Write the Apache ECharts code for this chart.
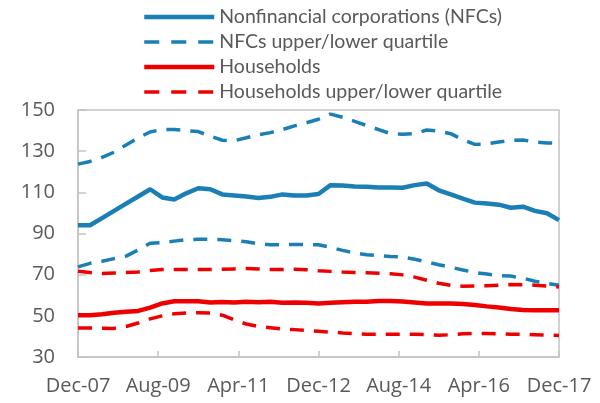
<!DOCTYPE html>
<html lang="en">
<head>
	<meta charset="UTF-8">
	<script src="https://cdn.jsdelivr.net/npm/echarts@6/dist/echarts.min.js"></script>
	<title>NFCs and households</title>
	<style>
		body { margin: 0; background: #fff; }
	</style>
</head>
<body>
	<div id="main" style="width: 600px;height:403px;"></div>

	<script>
		// quarterly observation dates
		var quarters = [
			'Dec-07', 'Mar-08', 'Jun-08', 'Sep-08', 'Dec-08', 'Mar-09', 'Jun-09', 'Sep-09', 'Dec-09',
			'Mar-10', 'Jun-10', 'Sep-10', 'Dec-10', 'Mar-11', 'Jun-11', 'Sep-11', 'Dec-11',
			'Mar-12', 'Jun-12', 'Sep-12', 'Dec-12', 'Mar-13', 'Jun-13', 'Sep-13', 'Dec-13',
			'Mar-14', 'Jun-14', 'Sep-14', 'Dec-14', 'Mar-15', 'Jun-15', 'Sep-15', 'Dec-15',
			'Mar-16', 'Jun-16', 'Sep-16', 'Dec-16', 'Mar-17', 'Jun-17', 'Sep-17', 'Dec-17'
		];

		var nfc = [94, 94, 97.5, 101, 104.5, 108, 111.5, 107.5, 106.5, 109.5, 112, 111.5, 109,
			108.5, 108, 107.2, 107.8, 109, 108.5, 108.5, 109.2, 113.5, 113.3, 112.8, 112.7,
			112.3, 112.3, 112.2, 113.5, 114.3, 111, 109, 107, 105, 104.6, 104, 102.5, 103, 101, 99.8, 96.5];
		var nfcUpper = [123.7, 125, 127, 129.5, 133, 136.5, 139.3, 140.6, 140.5, 140, 139.5, 137.3, 135.3,
			135.1, 136.5, 138, 139, 140.5, 142.3, 143.8, 145.5, 148, 146.5, 144.5, 142.5,
			140.5, 138.5, 138.2, 138.5, 140.3, 139.7, 138.5, 135.5, 133.3, 133.5, 134.5, 135.2, 135.4, 134.5, 134, 133.8];
		var nfcLower = [73.8, 75.5, 76.5, 77.8, 79, 82, 85.3, 85.6, 86.3, 87, 87.2, 87.2, 87,
			86.5, 86, 85, 84.5, 84.6, 84.7, 84.7, 84.5, 83.3, 81.8, 80.5, 79.7,
			79.3, 78.8, 78.6, 77.5, 76.2, 74.8, 73.6, 72.3, 71, 70.3, 69.6, 69.3, 68.3, 66.8, 65.8, 64.9];
		var hh = [50.3, 50.3, 50.8, 51.5, 52, 52.4, 54, 56, 57.1, 57.1, 57.1, 56.5, 56.7,
			56.5, 56.8, 56.6, 56.8, 56.3, 56.5, 56.4, 56, 56.3, 56.6, 56.8, 56.9,
			57.2, 57.2, 57, 56.5, 56, 56, 56, 55.8, 55.3, 54.6, 54, 53.3, 52.8, 52.7, 52.7, 52.7];
		var hhUpper = [71.7, 71, 70.6, 70.8, 71, 71.3, 72, 72.5, 72.5, 72.5, 72.5, 72.5, 72.6,
			72.8, 73, 72.8, 72.5, 72.5, 72.6, 72.4, 71.9, 71.6, 71.3, 71.1, 70.9,
			70.7, 70.4, 69.9, 68.8, 67.3, 65.8, 64.8, 64.4, 64.5, 64.6, 64.9, 65.2, 65.1, 64.9, 64.5, 64];
		var hhLower = [44.1, 44.1, 44, 43.9, 44.8, 46.5, 48.5, 50, 51, 51.4, 51.5, 51.4, 50.3,
			48, 46, 44.8, 44.2, 43.6, 43.3, 42.9, 42.5, 42.1, 41.7, 41.4, 41.1,
			41.1, 41.1, 41.1, 41.1, 40.9, 40.6, 40.8, 41.3, 41.4, 41.4, 41.3, 41.1, 41, 40.8, 40.6, 40.5];

		// monthly axis so that labels fall every 20 months like the original
		var monthNames = ['Jan', 'Feb', 'Mar', 'Apr', 'May', 'Jun', 'Jul', 'Aug', 'Sep', 'Oct', 'Nov', 'Dec'];
		var months = [];
		for (var i = 0; i <= 120; i++) {
			var m = (11 + i) % 12;
			var y = 7 + Math.floor((11 + i) / 12);
			months.push(monthNames[m] + '-' + (y < 10 ? '0' + y : y));
		}

		var blue = '#1a7fb5';
		var red = '#ee0000';
		var grey = '#595959';

		function pairs(arr) {
			return arr.map(function (v, k) { return [quarters[k], v]; });
		}

		function lineSeries(name, arr, color, dashed) {
			return {
				name: name,
				type: 'line',
				data: pairs(arr),
				symbol: 'none',
				silent: true,
				lineStyle: {
					color: color,
					width: dashed ? 3.5 : 4.5,
					type: dashed ? [14, 10] : 'solid',
					cap: 'butt'
				},
				itemStyle: { color: color },
				z: dashed ? 2 : 3
			};
		}

		function legendItem(name, dashed) {
			return {
				name: name,
				itemStyle: { opacity: 0 },
				lineStyle: { width: dashed ? 3.5 : 4.5, type: dashed ? [15, 12] : 'solid', cap: 'butt' }
			};
		}

		var chart = echarts.init(document.getElementById('main'));

		chart.setOption({
			animation: false,
			textStyle: { fontFamily: 'Open Sans' },
			legend: {
				orient: 'vertical',
				left: 137,
				top: 2,
				itemWidth: 70,
				itemHeight: 14,
				itemGap: 5,
				data: [
					legendItem('Nonfinancial corporations (NFCs)', false),
					legendItem('NFCs upper/lower quartile', true),
					legendItem('Households', false),
					legendItem('Households upper/lower quartile', true)
				],
				textStyle: { fontFamily: 'Lato', fontSize: 19.5, color: grey, lineHeight: 20 }
			},
			grid: {
				left: 78,
				right: 41,
				top: 110,
				bottom: 46,
				show: true,
				borderColor: '#c4c4c4',
				borderWidth: 1.5
			},
			xAxis: {
				type: 'category',
				data: months,
				boundaryGap: false,
				axisLine: { lineStyle: { color: '#c4c4c4', width: 1.5 } },
				axisTick: { inside: true, length: 6, interval: 19, lineStyle: { color: '#c4c4c4', width: 1.5 } },
				axisLabel: { interval: 19, color: grey, fontSize: 20, margin: 19, showMaxLabel: true }
			},
			yAxis: {
				type: 'value',
				min: 30,
				max: 150,
				interval: 20,
				splitLine: { show: false },
				axisLine: { show: true, lineStyle: { color: '#c4c4c4', width: 1.5 } },
				axisTick: { show: true, inside: true, length: 8, lineStyle: { color: '#c4c4c4', width: 1.5 } },
				axisLabel: { color: grey, fontSize: 20, margin: 23 }
			},
			series: [
				lineSeries('Nonfinancial corporations (NFCs)', nfc, blue, false),
				lineSeries('NFCs upper/lower quartile', nfcUpper, blue, true),
				lineSeries('NFCs upper/lower quartile', nfcLower, blue, true),
				lineSeries('Households', hh, red, false),
				lineSeries('Households upper/lower quartile', hhUpper, red, true),
				lineSeries('Households upper/lower quartile', hhLower, red, true)
			]
		});
	</script>
</body>
</html>
